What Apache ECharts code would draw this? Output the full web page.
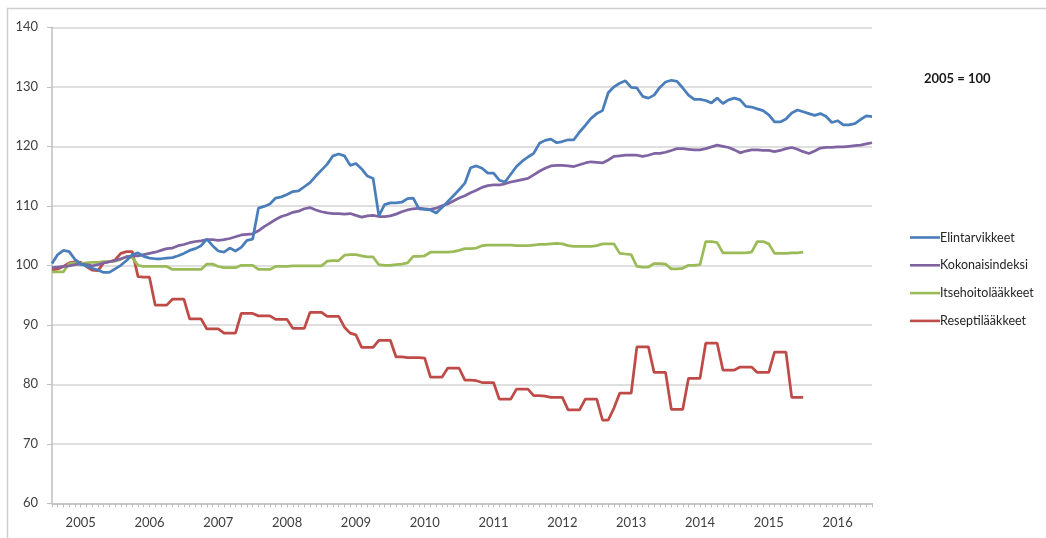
<!DOCTYPE html>
<html>
<head>
<meta charset="utf-8">
<script src="https://cdn.jsdelivr.net/npm/echarts@6/dist/echarts.min.js"></script>
<style>
  html, body { margin: 0; padding: 0; background: #fff; }
  #chart { width: 1046px; height: 538px; }
</style>
</head>
<body>
<div id="chart"></div>
<script>
// vuodet (x-akselin otsikot), kuukausittainen data 2005/01 - 2016/12
var years = ['2005', '2006', '2007', '2008', '2009', '2010', '2011', '2012', '2013', '2014', '2015', '2016'];
var yTicks = [60, 70, 80, 90, 100, 110, 120, 130, 140];
var seriesNames = ['Elintarvikkeet', 'Kokonaisindeksi', 'Itsehoitolääkkeet', 'Reseptilääkkeet'];

var elintarvikkeet = [
  100.3, 101.8, 102.5, 102.3, 101.0, 100.2, 99.9, 99.5, 99.2, 98.8, 98.8, 99.4,
  100.0, 100.8, 101.8, 102.1, 101.5, 101.2, 101.1, 101.1, 101.2, 101.3, 101.6, 102.0,
  102.5, 102.8, 103.3, 104.4, 103.3, 102.4, 102.2, 102.9, 102.4, 103.0, 104.2, 104.4,
  109.6, 109.9, 110.3, 111.3, 111.5, 111.9, 112.4, 112.5, 113.2, 113.9, 115.0, 116.0,
  117.0, 118.4, 118.7, 118.4, 116.8, 117.1, 116.2, 115.0, 114.6, 108.3, 110.2, 110.5,
  110.5, 110.6, 111.2, 111.3, 109.5, 109.4, 109.3, 108.8, 109.7, 110.7, 111.7, 112.7,
  113.8, 116.4, 116.7, 116.3, 115.5, 115.5, 114.3, 114.0, 115.3, 116.6, 117.5, 118.2,
  118.8, 120.5, 121.0, 121.2, 120.6, 120.8, 121.1, 121.1, 122.4, 123.5, 124.7, 125.5,
  126.0, 129.0, 130.0, 130.6, 131.0, 129.9, 129.8, 128.4, 128.1, 128.6, 129.9, 130.8,
  131.1, 130.9, 129.8, 128.6, 127.9, 127.9, 127.7, 127.3, 128.1, 127.2, 127.8, 128.1,
  127.8, 126.7, 126.6, 126.3, 126.0, 125.3, 124.1, 124.1, 124.6, 125.6, 126.1, 125.8,
  125.5, 125.2, 125.5, 125.0, 124.0, 124.3, 123.6, 123.6, 123.8, 124.5, 125.1, 125.0
];

var kokonaisindeksi = [
  99.6, 99.7, 99.8, 99.9, 100.1, 100.2, 100.1, 99.9, 100.1, 100.4, 100.6, 100.8,
  101.1, 101.4, 101.6, 101.6, 101.8, 102.0, 102.2, 102.5, 102.8, 102.9, 103.3, 103.5,
  103.8, 104.0, 104.1, 104.3, 104.3, 104.2, 104.3, 104.5, 104.8, 105.1, 105.2, 105.3,
  105.8, 106.5, 107.1, 107.7, 108.2, 108.5, 108.9, 109.1, 109.5, 109.7, 109.3, 109.0,
  108.8, 108.7, 108.7, 108.6, 108.7, 108.4, 108.1, 108.3, 108.4, 108.2, 108.2, 108.3,
  108.6, 109.0, 109.3, 109.5, 109.6, 109.5, 109.4, 109.6, 110.0, 110.3, 110.8, 111.3,
  111.7, 112.2, 112.6, 113.1, 113.4, 113.5, 113.5, 113.7, 114.0, 114.2, 114.4, 114.6,
  115.2, 115.8, 116.3, 116.7, 116.8, 116.8, 116.7, 116.6, 116.9, 117.2, 117.4, 117.3,
  117.2, 117.7, 118.3, 118.4, 118.5, 118.5, 118.5, 118.3, 118.5, 118.8, 118.8, 119.0,
  119.3, 119.6, 119.6, 119.5, 119.4, 119.4, 119.6, 119.9, 120.2, 120.0, 119.8, 119.4,
  118.9, 119.2, 119.4, 119.4, 119.3, 119.3, 119.1, 119.3, 119.6, 119.8, 119.5, 119.1,
  118.8, 119.2, 119.7, 119.8, 119.8, 119.9, 119.9, 120.0, 120.1, 120.2, 120.4, 120.6
];

var itsehoitolaakkeet = [
  98.9, 98.9, 98.9, 100.3, 100.4, 100.3, 100.4, 100.5, 100.5, 100.6, 100.6, 100.7,
  101.0, 101.5, 101.3, 100.0, 99.8, 99.8, 99.8, 99.8, 99.8, 99.3, 99.3, 99.3,
  99.3, 99.3, 99.3, 100.2, 100.2, 99.8, 99.6, 99.6, 99.6, 100.0, 100.0, 100.0,
  99.3, 99.3, 99.3, 99.8, 99.8, 99.8, 99.9, 99.9, 99.9, 99.9, 99.9, 99.9,
  100.7, 100.8, 100.8, 101.7, 101.8, 101.8, 101.6, 101.4, 101.4, 100.1, 100.0, 100.0,
  100.1, 100.2, 100.4, 101.5, 101.5, 101.6, 102.2, 102.2, 102.2, 102.2, 102.3, 102.5,
  102.8, 102.8, 102.9, 103.3, 103.4, 103.4, 103.4, 103.4, 103.4, 103.3, 103.3, 103.3,
  103.4, 103.5, 103.5, 103.6, 103.7, 103.6, 103.3, 103.2, 103.2, 103.2, 103.2, 103.3,
  103.6, 103.6, 103.6, 102.0, 101.9, 101.8, 99.8, 99.7, 99.7, 100.3, 100.3, 100.2,
  99.4, 99.4, 99.5, 100.0, 100.0, 100.1, 104.0, 104.0, 103.8, 102.1, 102.1, 102.1,
  102.1, 102.1, 102.2, 104.0, 104.0, 103.6, 102.0, 102.0, 102.0, 102.1, 102.1, 102.2
];

var reseptilaakkeet = [
  99.2, 99.4, 99.8, 100.4, 100.6, 100.5, 99.8, 99.2, 99.1, 100.4, 100.6, 100.9,
  102.0, 102.3, 102.3, 98.1, 98.0, 98.0, 93.3, 93.3, 93.3, 94.3, 94.3, 94.3,
  91.0, 91.0, 91.0, 89.3, 89.3, 89.3, 88.6, 88.6, 88.6, 91.9, 91.9, 91.9,
  91.5, 91.5, 91.5, 90.9, 90.9, 90.9, 89.4, 89.4, 89.4, 92.1, 92.1, 92.1,
  91.4, 91.4, 91.4, 89.6, 88.6, 88.3, 86.2, 86.2, 86.2, 87.4, 87.4, 87.4,
  84.6, 84.6, 84.5, 84.5, 84.5, 84.4, 81.2, 81.2, 81.2, 82.7, 82.7, 82.7,
  80.7, 80.7, 80.6, 80.3, 80.3, 80.3, 77.5, 77.5, 77.5, 79.2, 79.2, 79.2,
  78.1, 78.1, 78.0, 77.8, 77.8, 77.8, 75.7, 75.7, 75.7, 77.5, 77.5, 77.5,
  74.0, 74.0, 76.0, 78.5, 78.5, 78.5, 86.3, 86.3, 86.3, 82.0, 82.0, 82.0,
  75.8, 75.8, 75.8, 81.0, 81.0, 81.0, 86.9, 86.9, 86.9, 82.4, 82.4, 82.4,
  82.9, 82.9, 82.9, 82.0, 82.0, 82.0, 85.4, 85.4, 85.4, 77.8, 77.8, 77.8
];

var colors = ['#4a7ebb', '#8064a2', '#9bbb59', '#be4b48'];

// kuukausikategoriat
var months = [];
years.forEach(function (y) {
  for (var m = 1; m <= 12; m++) months.push(y + '-' + (m < 10 ? '0' + m : m));
});

var font = 'Lato, "Open Sans", sans-serif';

var chart = echarts.init(document.getElementById('chart'));

var option = {
  animation: false,
  color: colors,
  textStyle: { fontFamily: font },
  title: {
    text: '2005 = 100',
    left: 919,
    top: 67,
    textStyle: { fontFamily: font, fontSize: 13, fontWeight: 'bold', color: '#1a1a1a' }
  },
  legend: {
    orient: 'vertical',
    left: 905,
    top: 226,
    itemWidth: 30,
    itemHeight: 14,
    itemGap: 14.8,
    // pelkka viiva legendassa
    icon: 'path://M0,0 L30,0 L30,2.6 L0,2.6 Z',
    data: seriesNames,
    textStyle: { fontFamily: font, fontSize: 12.5, color: '#262626', padding: [0, 0, 0, -5] }
  },
  graphic: [{
    type: 'rect',
    shape: { x: 7.5, y: 8.5, width: 1200, height: 700 },
    style: { fill: null, stroke: '#cfcfcf', lineWidth: 1.5 },
    silent: true
  }],
  grid: { left: 52, top: 27.3, right: 174, bottom: 34.7 },
  xAxis: {
    type: 'category',
    data: months,
    boundaryGap: false,
    axisLine: { lineStyle: { color: '#bfbfbf', width: 1.5 } },
    axisTick: {
      interval: 0,
      length: 4,
      lineStyle: { color: '#bfbfbf' }
    },
    axisLabel: {
      interval: function (i) { return i % 12 === 5; },
      formatter: function (v) { return v.slice(0, 4); },
      margin: 13,
      fontFamily: font,
      fontSize: 13,
      color: '#404040'
    },
    splitLine: { show: false }
  },
  yAxis: {
    type: 'value',
    min: yTicks[0],
    max: yTicks[yTicks.length - 1],
    interval: 10,
    axisLine: { show: true, lineStyle: { color: '#bfbfbf', width: 1.5 } },
    axisTick: { show: true, length: 5, lineStyle: { color: '#bfbfbf' } },
    axisLabel: { margin: 14, fontFamily: font, fontSize: 13, color: '#404040' },
    splitLine: { lineStyle: { color: '#d4d4d4', width: 1.5 } }
  },
  series: [
    { name: seriesNames[0], data: elintarvikkeet },
    { name: seriesNames[1], data: kokonaisindeksi },
    { name: seriesNames[2], data: itsehoitolaakkeet },
    { name: seriesNames[3], data: reseptilaakkeet }
  ].map(function (s, k) {
    return {
      name: s.name,
      type: 'line',
      data: s.data,
      symbol: 'none',
      z: 10 - k,
      lineStyle: { width: 2.75, color: colors[k] },
      itemStyle: { color: colors[k] }
    };
  })
};

chart.setOption(option);
</script>
</body>
</html>
